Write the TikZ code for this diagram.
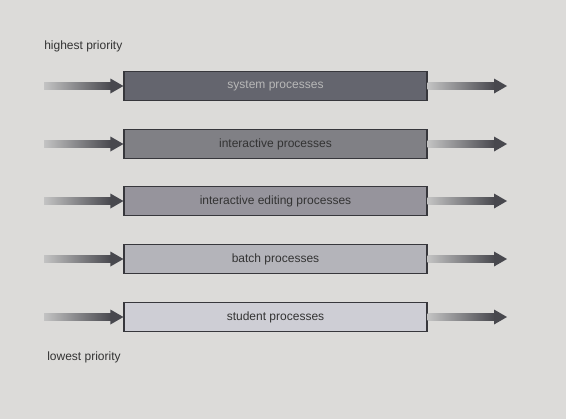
\documentclass[tikz,border=0pt]{standalone}
\usepackage{fontspec}
\setmainfont{Liberation Sans}
\usetikzlibrary{positioning,arrows.meta,calc}
\definecolor{paper}{RGB}{220,219,217}
\definecolor{edge}{RGB}{55,55,60}
\definecolor{sysfill}{RGB}{100,101,110}
\definecolor{intfill}{RGB}{128,128,133}
\definecolor{editfill}{RGB}{150,148,156}
\definecolor{batchfill}{RGB}{180,180,186}
\definecolor{studfill}{RGB}{206,206,213}
\definecolor{shaftlight}{RGB}{195,195,195}
\definecolor{shaftdark}{RGB}{72,72,78}
\tikzset{
  queue/.style={draw=edge, line width=0.9pt, minimum width=227.25pt, minimum height=21.75pt, inner sep=0pt, font=\fontsize{9}{11}\selectfont, text=black!80},
  label/.style={anchor=west, inner sep=0pt, font=\fontsize{9}{11}\selectfont, text=black!80}
}
% shaded arrow from #1 to #2
\newcommand{\qarrow}[2]{%
  \shade[left color=shaftlight, right color=shaftdark] ($(#1)+(0,-3.5)$) rectangle ($(#2)+(-12,3.5)$);
  \fill[shaftdark] ($(#2)+(-13,-7.5)$) -- (#2) -- ($(#2)+(-13,7.5)$) -- cycle;
}
\begin{document}
\begin{tikzpicture}[x=0.75pt, y=-0.75pt]
\fill[paper] (0,0) rectangle (566,419);
\useasboundingbox (0,0) rectangle (566,419);
% Labels
\node[label] (high) at (44,46) {highest priority};
\node[label] (low) at (47,357) {lowest priority};
% Queues
\node[queue, fill=sysfill, text=black!28] (sys) at (275.5,86) {system processes};
\node[queue, fill=intfill] (int) at (275.5,144) {interactive processes};
\node[queue, fill=editfill] (edit) at (275.5,201) {interactive editing processes};
\node[queue, fill=batchfill] (batch) at (275.5,259) {batch processes};
\node[queue, fill=studfill] (stud) at (275.5,317) {student processes};
% Arrow ends
\coordinate (sysin) at (44,86);
\coordinate (intin) at (44,144);
\coordinate (editin) at (44,201);
\coordinate (batchin) at (44,259);
\coordinate (studin) at (44,317);
\coordinate (sysout) at (507,86);
\coordinate (intout) at (507,144);
\coordinate (editout) at (507,201);
\coordinate (batchout) at (507,259);
\coordinate (studout) at (507,317);
% Arrows
\qarrow{sysin}{sys.west}
\qarrow{intin}{int.west}
\qarrow{editin}{edit.west}
\qarrow{batchin}{batch.west}
\qarrow{studin}{stud.west}
\qarrow{sys.east}{sysout}
\qarrow{int.east}{intout}
\qarrow{edit.east}{editout}
\qarrow{batch.east}{batchout}
\qarrow{stud.east}{studout}
\end{tikzpicture}
\end{document}
